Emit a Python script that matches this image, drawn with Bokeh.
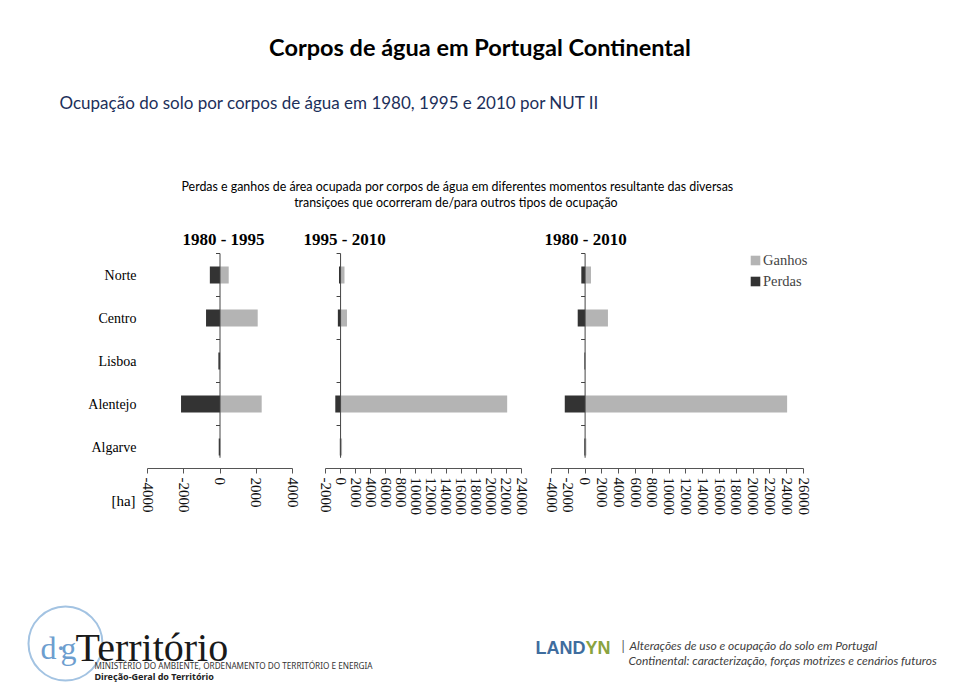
import math
from bokeh.plotting import figure
from bokeh.models import Range1d, FixedTicker, Label, Legend, LegendItem
from bokeh.layouts import column, row
from bokeh.embed import file_html
from bokeh.resources import INLINE
from bokeh.core.properties import value

# ---------------- data ----------------
categories = ["Norte", "Centro", "Lisboa", "Alentejo", "Algarve"]
periods = ["1980 - 1995", "1995 - 2010", "1980 - 2010"]

ganhos_1980_1995 = [480, 2080, 10, 2300, 20]
perdas_1980_1995 = [-560, -770, -90, -2150, -70]

ganhos_1995_2010 = [520, 850, 20, 22100, 200]
perdas_1995_2010 = [-210, -360, -20, -700, -100]

ganhos_1980_2010 = [700, 2720, 40, 24050, 150]
perdas_1980_2010 = [-450, -880, -80, -2420, -90]

ticks_1980_1995 = [-4000, -2000, 0, 2000, 4000]
ticks_1995_2010 = [-2000, 0, 2000, 4000, 6000, 8000, 10000, 12000, 14000,
                   16000, 18000, 20000, 22000, 24000]
ticks_1980_2010 = [-4000, -2000, 0, 2000, 4000, 6000, 8000, 10000, 12000,
                   14000, 16000, 18000, 20000, 22000, 24000, 26000]

legend_labels = ["Ganhos", "Perdas"]
unit_label = "[ha]"

title_text = "Corpos de água em Portugal Continental"
subtitle_text = "Ocupação do solo por corpos de água em 1980, 1995 e 2010 por NUT II"
desc_lines = ["Perdas e ganhos de área ocupada por corpos de água em diferentes momentos resultante das diversas",
              "transiçoes que ocorreram de/para outros  tipos de ocupação"]

GAIN = "#b4b4b4"
LOSS = "#333333"
SERIF = "Liberation Serif"
W = 952

# ---------------- geometry (pixels) ----------------
ROW_TOP, ROW_H = 220, 302
FRAME_BOTTOM = 468          # x-axis line
BOTTOM_BORDER = ROW_TOP + ROW_H - FRAME_BOTTOM
CAT_PX = 43                 # pixels per category
TOP_BOUND_PX = 253          # upper edge of the first category slot
N = len(categories)
V_TOP = (N - 0.5) + (TOP_BOUND_PX - ROW_TOP) / CAT_PX
V_AXIS = -0.5


def v_of(py):
    return (N - 0.5) - (py - TOP_BOUND_PX) / CAT_PX


def bare(width, height):
    p = figure(width=width, height=height, x_range=Range1d(0, width), y_range=Range1d(height, 0),
               x_axis_location=None, y_axis_location=None, toolbar_location=None,
               output_backend="svg", min_border=0)
    p.grid.visible = False
    p.outline_line_color = None
    return p


# ---------------- header ----------------
header = bare(W, ROW_TOP)
header.text(x=[479.5], y=[46], text=[title_text], text_font=value("Lato"), text_font_style="bold",
            text_font_size="23.5px", text_align="center", text_baseline="middle", text_color="#000000")
header.text(x=[59], y=[102], text=[subtitle_text], text_font=value("Lato"),
            text_font_size="17px", text_align="left", text_baseline="middle", text_color="#1c2f5a")
header.text(x=[457, 457], y=[186, 202], text=desc_lines, text_font=value("Lato"),
            text_font_size="12.4px", text_align="center", text_baseline="middle", text_color="#000000")

# ---------------- category labels column ----------------
ypos = [N - 1 - i for i in range(N)]
LAB_W = 137
lab = figure(width=LAB_W, height=ROW_H, x_range=Range1d(0, LAB_W),
             y_range=Range1d(V_AXIS, V_TOP), y_axis_location=None,
             toolbar_location=None, output_backend="svg",
             min_border_left=0, min_border_right=0, min_border_top=0, min_border_bottom=BOTTOM_BORDER)
lab.grid.visible = False
lab.outline_line_color = None
lab.text(x=[136] * N, y=ypos, text=categories, text_font=value(SERIF), text_font_size="14px",
         text_align="right", text_baseline="middle", text_color="#000000")
lax = lab.xaxis[0]
lax.ticker = FixedTicker(ticks=[123])
lax.major_label_overrides = {123: unit_label}
lax.major_label_orientation = "horizontal"
lax.major_label_text_font = SERIF
lax.major_label_text_font_size = "15px"
lax.major_label_text_color = "#000000"
lax.major_label_standoff = 18
lax.axis_line_color = None
lax.major_tick_line_color = None
lax.minor_tick_line_color = None


# ---------------- panels ----------------
def panel(idx, ganhos, perdas, ticks, c0, f0, f1, a0, a1, title_px, title_align):
    s = (ticks[-1] - ticks[0]) / (a1 - a0)
    x_start = ticks[0] - (a0 - f0) * s
    x_end = ticks[-1] + (f1 - a1) * s

    def x_of(px):
        return x_start + (px - f0) * s

    p = figure(width=f1 - c0, height=ROW_H, x_range=Range1d(x_start, x_end),
               y_range=Range1d(V_AXIS, V_TOP), y_axis_location=None,
               min_border_left=f0 - c0, min_border_right=0, min_border_top=0,
               min_border_bottom=BOTTOM_BORDER,
               toolbar_location=None, output_backend="svg")
    p.grid.visible = False
    p.outline_line_color = None
    ax = p.xaxis[0]
    ax.bounds = (ticks[0], ticks[-1])
    ax.ticker = FixedTicker(ticks=ticks)
    ax.major_label_overrides = {t: str(t) for t in ticks}
    ax.major_label_orientation = "vertical"
    ax.major_label_text_font = SERIF
    ax.major_label_text_font_size = "15px"
    ax.major_label_text_color = "#111111"
    ax.major_label_standoff = 4
    ax.axis_line_color = "#555555"
    ax.major_tick_line_color = "#555555"
    ax.major_tick_out = 5
    ax.major_tick_in = 0
    ax.minor_tick_line_color = None

    g = p.hbar(y=ypos, left=0, right=ganhos, height=0.4, fill_color=GAIN, line_color=None)
    l = p.hbar(y=ypos, left=perdas, right=0, height=0.4, fill_color=LOSS, line_color=None)

    # zero axis with ticks between categories
    p.segment(x0=[0], y0=[-0.25], x1=[0], y1=[N - 0.5], line_color="#444444", line_width=1)
    p.ray(x=[0] * N, y=[v + 0.5 for v in ypos], length=4, length_units="screen",
          angle=math.pi, line_color="#444444", line_width=1)

    p.add_layout(Label(x=x_of(title_px), y=v_of(239), text=periods[idx], text_font=SERIF,
                       text_font_style="bold", text_font_size="17px", text_align=title_align,
                       text_baseline="middle", text_color="#000000"))

    if idx == 2:
        leg = Legend(items=[LegendItem(label=legend_labels[0], renderers=[g]),
                            LegendItem(label=legend_labels[1], renderers=[l])],
                     location=(214, 178), orientation="vertical")
        leg.label_text_font = SERIF
        leg.label_text_font_size = "14.5px"
        leg.glyph_width = 12
        leg.glyph_height = 12
        leg.label_height = 18
        leg.spacing = 3
        leg.padding = 0
        leg.margin = 0
        leg.label_standoff = 2
        leg.border_line_color = None
        leg.background_fill_alpha = 0
        p.add_layout(leg)
    return p


p1 = panel(0, ganhos_1980_1995, perdas_1980_1995, ticks_1980_1995, LAB_W, 147, 300, 147, 292, 223, "center")
p2 = panel(1, ganhos_1995_2010, perdas_1995_2010, ticks_1995_2010, 300, 300, 535, 325, 521, 303, "left")
p3 = panel(2, ganhos_1980_2010, perdas_1980_2010, ticks_1980_2010, 535, 535, 820, 551, 803, 544, "left")

# ---------------- footer ----------------
FT = ROW_TOP + ROW_H
footer = bare(W, 160)
footer.circle(x=[65], y=[643 - FT], radius=37, fill_color=None, line_color="#a3c3e2", line_width=2)
footer.text(x=[40, 55, 60], y=[647 - FT] * 3, text=["d", "·", "g"], text_font=value(SERIF),
            text_font_size="32px", text_align="left", text_baseline="alphabetic", text_color="#6d9ecf")
footer.text(x=[75], y=[647 - FT], text=["Território"], text_font=value(SERIF), text_font_size="40px",
            text_align="left", text_baseline="alphabetic", text_color="#1a1a1a")
footer.text(x=[94], y=[665 - FT], text=["MINISTÉRIO DO AMBIENTE, ORDENAMENTO DO TERRITÓRIO E ENERGIA"],
            text_font=value("Noto Sans"), text_font_size="8.2px", text_align="left",
            text_baseline="middle", text_color="#333333")
footer.text(x=[94], y=[676 - FT], text=["Direção-Geral do Território"],
            text_font=value("Noto Sans"), text_font_style="bold", text_font_size="9px", text_align="left",
            text_baseline="middle", text_color="#222222")
footer.text(x=[535], y=[647 - FT], text=["LAND"], text_font=value("Liberation Sans"), text_font_style="bold",
            text_font_size="18px", text_align="left", text_baseline="middle", text_color="#3f6d9e")
footer.text(x=[585], y=[647 - FT], text=["YN"], text_font=value("Liberation Sans"), text_font_style="bold",
            text_font_size="18px", text_align="left", text_baseline="middle", text_color="#8aa33f")
footer.text(x=[621], y=[645 - FT], text=["|"], text_font=value("Lato"),
            text_font_size="13px", text_align="left", text_baseline="middle", text_color="#555555")
footer.text(x=[629, 628], y=[645 - FT, 660 - FT],
            text=["Alterações de uso e ocupação do solo em Portugal",
                  "Continental: caracterização, forças motrizes e cenários futuros"],
            text_font=value("Lato"), text_font_style="italic", text_font_size="12px",
            text_align="left", text_baseline="middle", text_color="#404040")

layout = column(header, row(lab, p1, p2, p3), footer)
open("out.html", "w").write(file_html(layout, INLINE))
